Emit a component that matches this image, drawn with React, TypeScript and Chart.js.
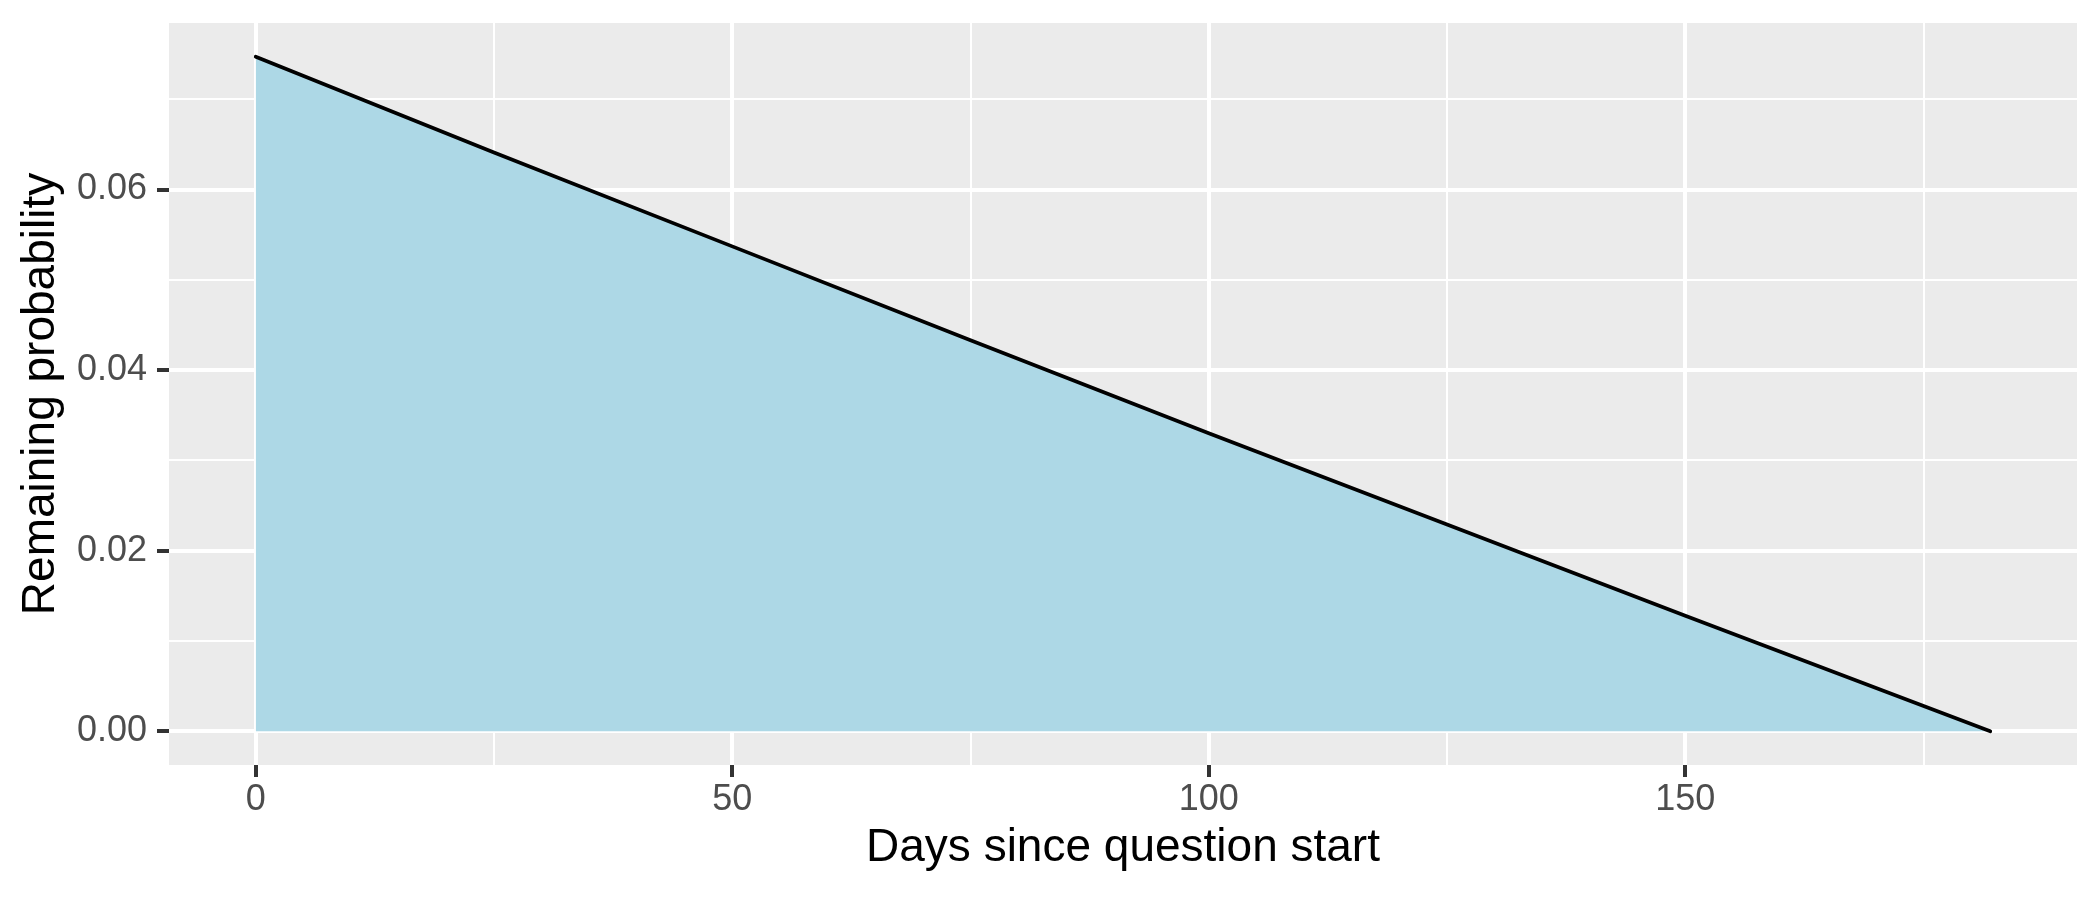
import React, { useEffect, useRef } from 'react';
import { Chart, registerables } from 'chart.js';

Chart.register(...registerables);

// ---- data ----
const days = [0, 25, 50, 75, 100, 125, 150, 182];
const remaining = [0.0747, 0.0641, 0.0537, 0.0433, 0.033, 0.0229, 0.0128, 0];

const xTicks = [0, 25, 50, 75, 100, 125, 150, 175];
const xTickLabels = ['0', '', '50', '', '100', '', '150', ''];
const yTicks = [0, 0.01, 0.02, 0.03, 0.04, 0.05, 0.06, 0.07];
const yTickLabels = ['0.00', '', '0.02', '', '0.04', '', '0.06', ''];

const xTitle = 'Days since question start';
const yTitle = 'Remaining probability';

const xMin = -9.1;
const xMax = 191.1;
const yMin = -0.003735;
const yMax = 0.07844;

const FONT = '"Liberation Sans", Arial, Helvetica, sans-serif';

const panelBg = {
  id: 'panelBg',
  beforeDraw(chart: any) {
    const { ctx, chartArea, width, height } = chart;
    ctx.save();
    ctx.fillStyle = '#FFFFFF';
    ctx.fillRect(0, 0, width, height);
    ctx.fillStyle = '#EBEBEB';
    ctx.fillRect(chartArea.left, chartArea.top, chartArea.right - chartArea.left, chartArea.bottom - chartArea.top);
    ctx.restore();
  },
};

const zeroPad = (s: any) => {
  s.paddingTop = 0;
  s.paddingBottom = 0;
  s.paddingLeft = 0;
  s.paddingRight = 0;
};

export default function App() {
  const ref = useRef<HTMLCanvasElement | null>(null);

  useEffect(() => {
    if (!ref.current) return;
    const isMajorX = (i: number) => xTickLabels[i] !== undefined && xTickLabels[i] !== '';
    const isMajorY = (i: number) => yTickLabels[i] !== undefined && yTickLabels[i] !== '';

    const chart = new Chart(ref.current, {
      type: 'line',
      data: {
        datasets: [
          {
            data: days.map((d, i) => ({ x: d, y: remaining[i] })),
            fill: 'origin',
            backgroundColor: '#ADD8E6',
            borderColor: '#000000',
            borderWidth: 3.7,
            borderCapStyle: 'round',
            borderJoinStyle: 'round',
            pointRadius: 0,
            tension: 0,
          },
        ],
      },
      plugins: [panelBg],
      options: {
        animation: false,
        responsive: false,
        devicePixelRatio: 1,
        layout: { padding: { top: 23, right: 23, left: 0, bottom: 0 } },
        plugins: {
          legend: { display: false },
          tooltip: { enabled: false },
        },
        scales: {
          x: {
            type: 'linear',
            min: xMin,
            max: xMax,
            afterBuildTicks: (s: any) => {
              s.ticks = xTicks.map((v) => ({ value: v }));
            },
            afterFit: (s: any) => {
              s.height = 135;
              zeroPad(s);
            },
            border: { display: false },
            grid: {
              color: '#FFFFFF',
              lineWidth: (c: any) => (isMajorX(c.index) ? 4 : 2),
              drawTicks: true,
              tickLength: 12,
              tickWidth: 4,
              tickColor: (c: any) => (isMajorX(c.index) ? '#333333' : 'rgba(0,0,0,0)'),
            },
            ticks: {
              autoSkip: false,
              maxRotation: 0,
              padding: 1,
              color: '#4D4D4D',
              font: { size: 36, family: FONT },
              callback: (_v: any, i: number) => xTickLabels[i],
            },
            title: {
              display: true,
              text: xTitle,
              color: '#000000',
              font: { size: 46, family: FONT },
              padding: { top: 0, bottom: 24 },
            },
          },
          y: {
            type: 'linear',
            min: yMin,
            max: yMax,
            afterBuildTicks: (s: any) => {
              s.ticks = yTicks.map((v) => ({ value: v }));
            },
            afterFit: (s: any) => {
              s.width = 169;
              zeroPad(s);
            },
            border: { display: false },
            grid: {
              color: '#FFFFFF',
              lineWidth: (c: any) => (isMajorY(c.index) ? 4 : 2),
              drawTicks: true,
              tickLength: 12,
              tickWidth: 4,
              tickColor: (c: any) => (isMajorY(c.index) ? '#333333' : 'rgba(0,0,0,0)'),
            },
            ticks: {
              autoSkip: false,
              padding: 10,
              color: '#4D4D4D',
              font: { size: 36, family: FONT },
              callback: (_v: any, i: number) => yTickLabels[i],
            },
            title: {
              display: true,
              text: yTitle,
              color: '#000000',
              font: { size: 46, family: FONT },
              padding: { top: 14, bottom: 0 },
            },
          },
        },
      },
    } as any);

    return () => chart.destroy();
  }, []);

  return (
    <div style={{ position: 'absolute', left: 0, top: 0, width: 2100, height: 900, background: '#FFFFFF' }}>
      <canvas ref={ref} width={2100} height={900} style={{ width: 2100, height: 900, display: 'block' }} />
    </div>
  );
}
